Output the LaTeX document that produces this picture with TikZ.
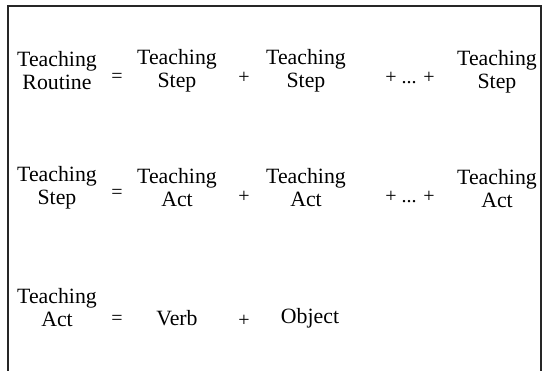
\documentclass[tikz,border=0pt]{standalone}
\usepackage{fontspec}
\setmainfont{Liberation Serif}
\begin{document}
\begin{tikzpicture}[x=1pt,y=-1pt,
  term/.style={align=center,inner sep=0pt,font=\fontsize{21.8}{23}\selectfont},
  op/.style={inner sep=0pt,font=\fontsize{20}{22}\selectfont}]
\useasboundingbox (0,0) rectangle (549,371);
\draw[line width=1.4pt,color=black!85] (8,372) -- (8,6) -- (541,6) -- (541,372);
% row 1
\node[term] (r1a) at (57,71) {Teaching\\Routine};
\node[op] (r1eq) at (117,78) {=};
\node[term] (r1b) at (177,71) {Teaching\\Step};
\node[op] (r1p1) at (244,78) {+};
\node[term] (r1c) at (306,71) {Teaching\\Step};
\node[op] (r1p2) at (410,78) {+ ... +};
\node[term] (r1d) at (497,72) {Teaching\\Step};
% row 2
\node[term] (r2a) at (57,188) {Teaching\\Step};
\node[op] (r2eq) at (117,194) {=};
\node[term] (r2b) at (177,188) {Teaching\\Act};
\node[op] (r2p1) at (244,197) {+};
\node[term] (r2c) at (306,188) {Teaching\\Act};
\node[op] (r2p2) at (410,197) {+ ... +};
\node[term] (r2d) at (497,189) {Teaching\\Act};
% row 3
\node[term] (r3a) at (57,308) {Teaching\\Act};
\node[op] (r3eq) at (117,320) {=};
\node[term] (r3b) at (177,318) {Verb};
\node[op] (r3p) at (244,321) {+};
\node[term] (r3c) at (310,318) {Object};
\end{tikzpicture}
\end{document}
